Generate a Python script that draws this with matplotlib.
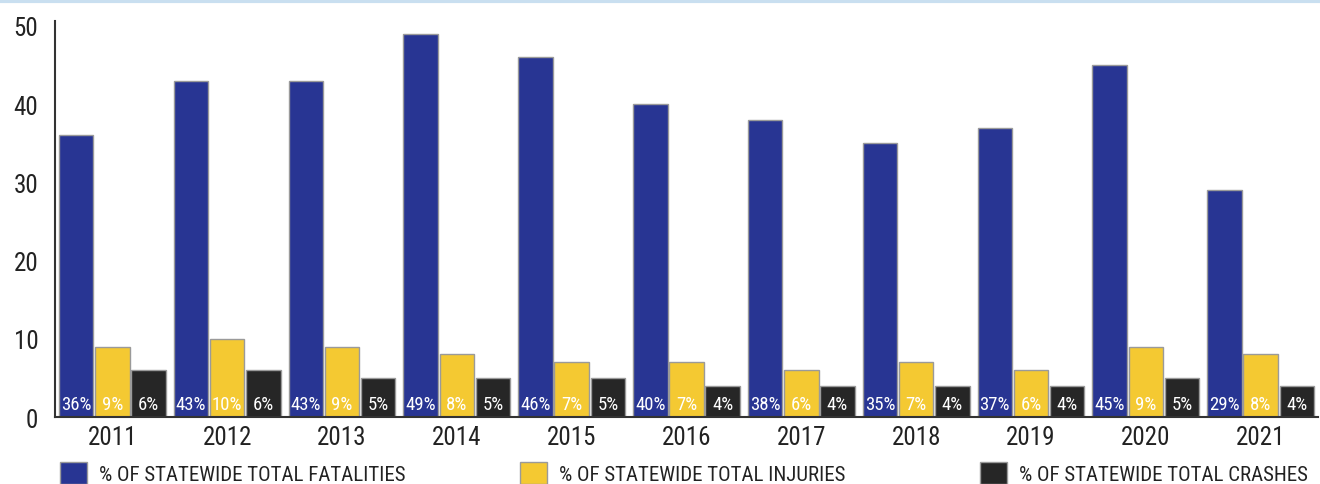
import matplotlib
matplotlib.use("Agg")
import matplotlib.pyplot as plt
import numpy as np
from matplotlib.patches import Patch
from matplotlib import font_manager as fm

years = ["2011", "2012", "2013", "2014", "2015", "2016", "2017", "2018", "2019", "2020", "2021"]
fatalities = [36, 43, 43, 49, 46, 40, 38, 35, 37, 45, 29]
injuries = [9, 10, 9, 8, 7, 7, 6, 7, 6, 9, 8]
crashes = [6, 6, 5, 5, 5, 4, 4, 4, 4, 5, 4]
series_names = ["% OF STATEWIDE TOTAL FATALITIES", "% OF STATEWIDE TOTAL INJURIES", "% OF STATEWIDE TOTAL CRASHES"]
colors = ["#283593", "#f4c932", "#262626"]

names = {f.name for f in fm.fontManager.ttflist}
fam = "DejaVu Sans"
for cand in ["Roboto Condensed", "Liberation Sans Narrow", "Open Sans Condensed"]:
    if cand in names:
        fam = cand
        break
plt.rcParams["font.family"] = [fam, "DejaVu Sans"]
plt.rcParams["font.stretch"] = "condensed"

fig = plt.figure(figsize=(13.2, 4.85), dpi=100)
ax = fig.add_axes([55/1320, 1-418/485, 1263/1320, (418-27)/485*50.6/50])

x = np.arange(len(years))
w = 0.30
off = 0.315
for vals, c, dx in zip([fatalities, injuries, crashes], colors, [-off, 0, off]):
    ax.bar(x + dx, vals, w, color=c, edgecolor="#9a9a9a", linewidth=1.0, zorder=2)
    for xi, v in zip(x + dx, vals):
        ax.text(xi, 0.45, f"{v}%", ha="center", va="bottom", color="white",
                fontsize=13.5, zorder=3)

ax.set_xlim(-0.5, 10.5)
ax.set_ylim(0, 50.6)
ax.set_yticks([0, 10, 20, 30, 40, 50])
ax.set_xticks(x)
ax.set_xticklabels(years)
ax.tick_params(axis="both", length=0, labelsize=18, colors="#222222")
ax.tick_params(axis="y", pad=12)
ax.tick_params(axis="x", pad=6)
for s in ["top", "right"]:
    ax.spines[s].set_visible(False)
ax.spines["left"].set_color("#333333")
ax.spines["left"].set_linewidth(1.5)
ax.spines["bottom"].set_color("#333333")
ax.spines["bottom"].set_linewidth(1.5)

legend_x = [52, 512, 972]
for name, c, lx in zip(series_names, colors, legend_x):
    fig.legend([Patch(facecolor=c, edgecolor="#9a9a9a")], [name], loc="lower left",
               bbox_to_anchor=(lx/1320, -0.018), frameon=False,
               prop={"size": 15},
               handlelength=1.3, handleheight=1.3, handletextpad=0.55,
               borderaxespad=0, labelcolor="#222222")

fig.add_artist(plt.Line2D([0, 1], [1-2/485, 1-2/485], color="#c9dff0", linewidth=3,
                          transform=fig.transFigure))

fig.savefig("out.png", dpi=100, facecolor="white")
